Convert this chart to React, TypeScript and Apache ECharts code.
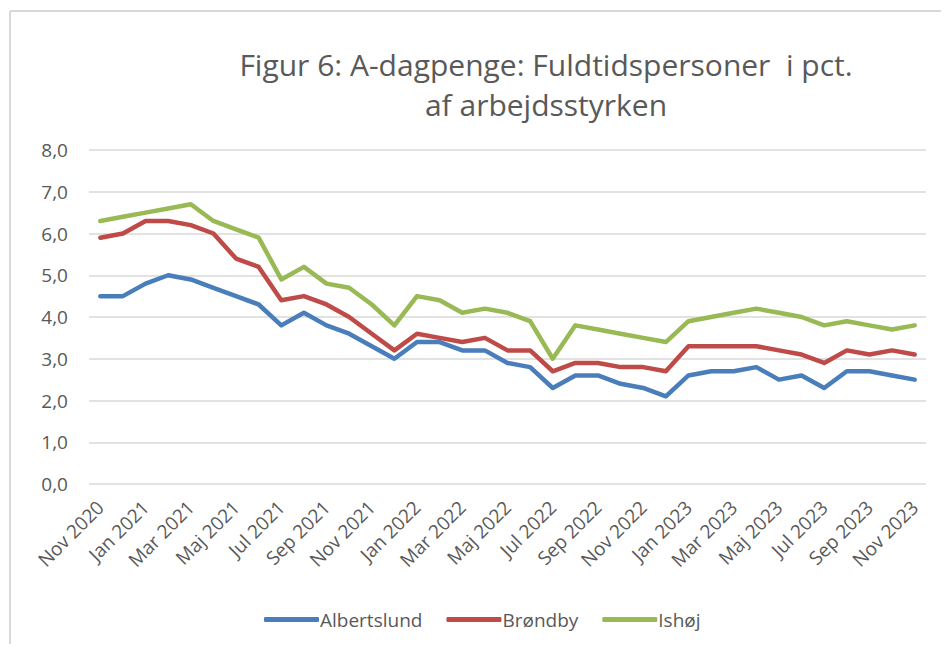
import React, { useEffect, useRef } from "react";
import * as echarts from "echarts";

const months = [
  "Nov 2020", "Dec 2020", "Jan 2021", "Feb 2021", "Mar 2021", "Apr 2021", "Maj 2021", "Jun 2021",
  "Jul 2021", "Aug 2021", "Sep 2021", "Okt 2021", "Nov 2021", "Dec 2021", "Jan 2022", "Feb 2022",
  "Mar 2022", "Apr 2022", "Maj 2022", "Jun 2022", "Jul 2022", "Aug 2022", "Sep 2022", "Okt 2022",
  "Nov 2022", "Dec 2022", "Jan 2023", "Feb 2023", "Mar 2023", "Apr 2023", "Maj 2023", "Jun 2023",
  "Jul 2023", "Aug 2023", "Sep 2023", "Okt 2023", "Nov 2023",
];

const albertslund = [
  4.5, 4.5, 4.8, 5.0, 4.9, 4.7, 4.5, 4.3, 3.8, 4.1, 3.8, 3.6, 3.3, 3.0, 3.4, 3.4, 3.2, 3.2, 2.9,
  2.8, 2.3, 2.6, 2.6, 2.4, 2.3, 2.1, 2.6, 2.7, 2.7, 2.8, 2.5, 2.6, 2.3, 2.7, 2.7, 2.6, 2.5,
];
const broendby = [
  5.9, 6.0, 6.3, 6.3, 6.2, 6.0, 5.4, 5.2, 4.4, 4.5, 4.3, 4.0, 3.6, 3.2, 3.6, 3.5, 3.4, 3.5, 3.2,
  3.2, 2.7, 2.9, 2.9, 2.8, 2.8, 2.7, 3.3, 3.3, 3.3, 3.3, 3.2, 3.1, 2.9, 3.2, 3.1, 3.2, 3.1,
];
const ishoej = [
  6.3, 6.4, 6.5, 6.6, 6.7, 6.3, 6.1, 5.9, 4.9, 5.2, 4.8, 4.7, 4.3, 3.8, 4.5, 4.4, 4.1, 4.2, 4.1,
  3.9, 3.0, 3.8, 3.7, 3.6, 3.5, 3.4, 3.9, 4.0, 4.1, 4.2, 4.1, 4.0, 3.8, 3.9, 3.8, 3.7, 3.8,
];

const seriesNames = ["Albertslund", "Brøndby", "Ishøj"];
const seriesColors = ["#4A7EBB", "#BE4B48", "#98B954"];
const titleText = "Figur 6: A-dagpenge: Fuldtidspersoner  i pct.\naf arbejdsstyrken";

const FONT = "'Open Sans', 'Noto Sans', sans-serif";
const GRAY = "#595959";

export default function App() {
  const ref = useRef<HTMLDivElement>(null);
  useEffect(() => {
    if (!ref.current) return;
    const chart = echarts.init(ref.current, null, { renderer: "svg" });
    const data = [albertslund, broendby, ishoej];
    chart.setOption({
      animation: false,
      backgroundColor: "#ffffff",
      textStyle: { fontFamily: FONT },
      graphic: [
        {
          type: "line",
          shape: { x1: 10, y1: 11, x2: 949, y2: 11 },
          style: { stroke: "#D9D9D9", lineWidth: 2 },
        },
        {
          type: "line",
          shape: { x1: 10, y1: 11, x2: 10, y2: 652 },
          style: { stroke: "#D9D9D9", lineWidth: 2 },
        },
        {
          type: "text",
          x: 546,
          y: 44,
          style: {
            text: titleText,
            fill: GRAY,
            font: `30px ${FONT}`,
            align: "center",
            verticalAlign: "top",
            lineHeight: 40,
          },
        },
      ],
      legend: {
        data: seriesNames,
        bottom: 18,
        left: 259,
        icon: "roundRect",
        itemWidth: 55,
        itemHeight: 5,
        itemGap: 24,
        textStyle: { color: GRAY, fontSize: 19, fontFamily: FONT, padding: [0, 0, 0, -4] },
      },
      grid: { left: 89, right: 23, top: 150, height: 334, containLabel: false },
      xAxis: {
        type: "category",
        data: months,
        boundaryGap: true,
        axisLine: { show: false },
        axisTick: { show: false },
        axisLabel: {
          interval: 1,
          rotate: 45,
          color: GRAY,
          fontSize: 19,
          fontFamily: FONT,
          margin: 20,
        },
      },
      yAxis: {
        type: "value",
        min: 0,
        max: 8,
        interval: 1,
        axisLine: { show: false },
        axisTick: { show: false },
        axisLabel: {
          color: GRAY,
          fontSize: 19,
          fontFamily: FONT,
          margin: 21,
          formatter: (v: number) => v.toFixed(1).replace(".", ","),
        },
        splitLine: { lineStyle: { color: "#D9D9D9", width: 1.5 } },
      },
      series: seriesNames.map((name, i) => ({
        name,
        type: "line",
        data: data[i],
        symbol: "none",
        lineStyle: { color: seriesColors[i], width: 4.5, cap: "round", join: "round" },
        itemStyle: { color: seriesColors[i] },
      })),
    });
    return () => chart.dispose();
  }, []);
  return <div ref={ref} style={{ width: 949, height: 652, margin: -8 }} />;
}
